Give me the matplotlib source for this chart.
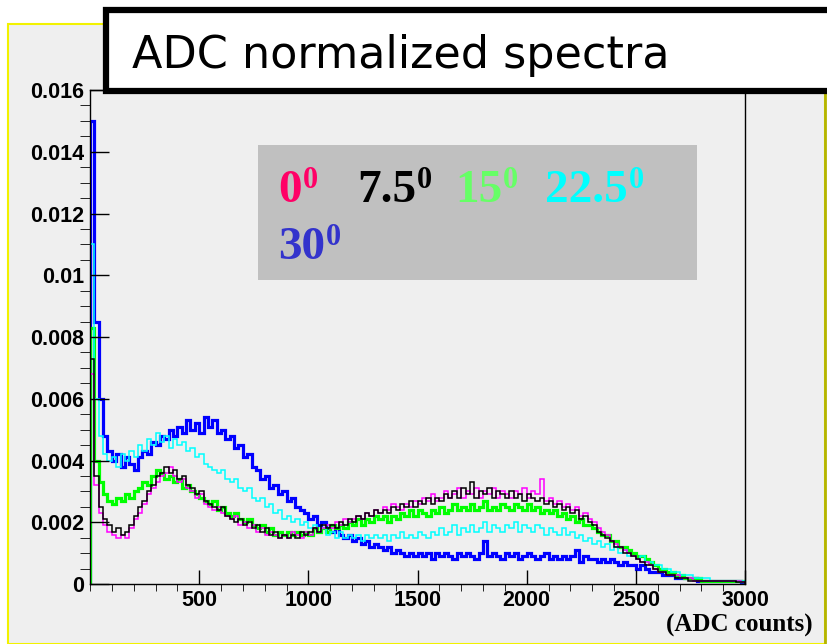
import numpy as np
import matplotlib
matplotlib.use("Agg")
import matplotlib.pyplot as plt
from matplotlib.patches import Rectangle
from matplotlib.lines import Line2D
from matplotlib.ticker import MultipleLocator, FixedLocator, FixedFormatter

# bin edges of the ADC histograms (20 counts per bin)
edges = np.arange(0, 3001, 20)

# normalized spectra, units of 1e-4
h_30 = [150, 85, 60, 48, 43, 40, 42, 38, 41, 39,
        37, 41, 43, 42, 46, 45, 48, 47, 50, 48,
        51, 49, 53, 50, 52, 49, 54, 51, 53, 49,
        50, 47, 48, 44, 45, 41, 42, 38, 37, 34,
        35, 31, 32, 29, 30, 27, 28, 25, 24, 23,
        21, 22, 19, 20, 18, 17, 18, 16, 15, 16,
        14, 15, 13, 14, 12, 13, 12, 11, 12, 10,
        11, 10, 9, 10, 9, 10, 9, 10, 8, 10,
        9, 10, 9, 8, 10, 9, 10, 9, 8, 10,
        14, 9, 10, 9, 8, 10, 9, 10, 8, 9,
        10, 9, 8, 9, 10, 8, 9, 8, 9, 8,
        9, 11, 7, 9, 8, 8, 7, 8, 7, 8,
        7, 6, 7, 6, 6, 5, 6, 5, 4, 4,
        4, 3, 3, 3, 2, 2, 2, 2, 2, 1,
        1, 1, 1, 1, 1, 1, 1, 1, 1, 0.5]

h_22 = [110, 60, 48, 42, 40, 41, 38, 42, 40, 43,
        41, 45, 43, 47, 45, 49, 46, 48, 44, 47,
        45, 46, 43, 44, 41, 42, 39, 38, 37, 36,
        37, 34, 33, 34, 31, 30, 31, 28, 27, 28,
        25, 26, 23, 24, 21, 22, 20, 21, 19, 20,
        18, 19, 17, 18, 16, 17, 15, 17, 15, 16,
        15, 16, 14, 16, 15, 16, 15, 16, 14, 16,
        15, 17, 15, 16, 15, 17, 16, 15, 17, 16,
        18, 16, 17, 19, 16, 18, 17, 19, 17, 18,
        20, 17, 19, 18, 17, 19, 18, 20, 17, 19,
        18, 17, 19, 18, 16, 18, 17, 16, 18, 16,
        17, 15, 16, 14, 15, 13, 14, 12, 13, 11,
        12, 10, 11, 9, 9, 8, 9, 7, 7, 6,
        6, 5, 5, 4, 4, 3, 3, 3, 2, 2,
        2, 2, 1, 1, 1, 1, 1, 1, 1, 1]

h_15 = [83, 40, 33, 29, 27, 26, 28, 27, 29, 28,
        30, 31, 33, 32, 35, 37, 36, 34, 35, 33,
        34, 31, 32, 30, 29, 28, 27, 26, 27, 24,
        25, 23, 22, 23, 21, 20, 21, 19, 18, 19,
        17, 18, 16, 17, 16, 17, 16, 17, 16, 17,
        16, 18, 17, 18, 17, 19, 18, 19, 18, 20,
        19, 21, 19, 21, 20, 22, 21, 22, 20, 22,
        21, 23, 22, 24, 22, 24, 23, 22, 24, 23,
        25, 23, 24, 26, 24, 25, 24, 26, 24, 25,
        27, 24, 25, 24, 26, 25, 24, 26, 25, 24,
        26, 24, 25, 23, 24, 23, 24, 22, 23, 21,
        22, 20, 21, 19, 19, 18, 17, 16, 16, 14,
        14, 12, 12, 11, 10, 9, 9, 8, 7, 6,
        5, 5, 4, 4, 3, 3, 2, 2, 2, 2,
        1, 1, 1, 1, 1, 1, 1, 1, 1, 1]

h_7 = [73, 35, 25, 21, 19, 17, 18, 16, 17, 19,
       22, 25, 27, 30, 32, 35, 36, 38, 36, 37,
       34, 35, 32, 31, 29, 30, 27, 26, 25, 24,
       25, 22, 21, 20, 21, 19, 20, 18, 19, 17,
       18, 16, 17, 15, 16, 15, 16, 15, 17, 16,
       17, 18, 17, 19, 18, 19, 18, 20, 19, 21,
       20, 22, 21, 23, 22, 24, 23, 24, 23, 25,
       24, 26, 25, 27, 25, 27, 26, 28, 26, 28,
       27, 29, 28, 30, 28, 31, 29, 33, 28, 30,
       29, 31, 28, 30, 29, 28, 30, 28, 29, 27,
       29, 28, 27, 28, 26, 27, 25, 26, 24, 25,
       23, 24, 21, 22, 20, 19, 17, 16, 15, 14,
       12, 12, 10, 10, 9, 8, 7, 6, 6, 5,
       4, 4, 3, 3, 2, 2, 2, 1, 1, 1,
       1, 1, 1, 1, 1, 1, 1, 1, 0.5, 0.5]

h_0 = [68, 32, 23, 19, 17, 16, 15, 16, 15, 18,
       21, 23, 26, 29, 31, 33, 35, 36, 38, 35,
       33, 34, 31, 30, 28, 29, 26, 25, 24, 25,
       23, 22, 21, 22, 19, 20, 18, 19, 17, 18,
       16, 17, 16, 15, 16, 15, 17, 16, 15, 17,
       16, 18, 17, 18, 19, 18, 20, 19, 21, 20,
       21, 22, 21, 23, 22, 24, 23, 25, 24, 26,
       25, 24, 26, 25, 27, 26, 28, 27, 29, 27,
       28, 30, 28, 29, 31, 28, 30, 29, 31, 28,
       30, 29, 31, 28, 30, 29, 28, 30, 29, 31,
       28, 30, 29, 34, 27, 28, 26, 27, 25, 26,
       24, 25, 22, 23, 21, 20, 18, 17, 16, 14,
       13, 12, 11, 10, 9, 8, 7, 7, 6, 5,
       4, 4, 3, 3, 3, 2, 2, 2, 1, 1,
       1, 1, 1, 1, 1, 1, 1, 1, 1, 0.5]

y_ticks = [0, 0.002, 0.004, 0.006, 0.008, 0.01, 0.012, 0.014, 0.016]
y_labels = ["0", "0.002", "0.004", "0.006", "0.008", "0.01", "0.012", "0.014", "0.016"]
x_ticks = [500, 1000, 1500, 2000, 2500, 3000]
x_labels = ["500", "1000", "1500", "2000", "2500", "3000"]

W, H = 827, 644


def fx(px):
    return px / W


def fy(py):
    return 1 - py / H


fig = plt.figure(figsize=(8.27, 6.44), dpi=100)
fig.patch.set_facecolor("white")

# grey canvas with yellow border
fig.add_artist(Rectangle((fx(8), 0), fx(817), fy(24), transform=fig.transFigure,
                         facecolor="#efefef", edgecolor="#f2f200", lw=1.5, zorder=-2))
fig.add_artist(Line2D([fx(825), fx(825)], [0, fy(24)], transform=fig.transFigure,
                      color="#b4b400", lw=2, zorder=-1))

ax = fig.add_axes([fx(90), fy(584), fx(655), (584 - 90) / H])
ax.set_facecolor("#efefef")

# histograms, thick ones first
for vals, col, lw in [(h_30, "#0000ff", 2.3), (h_15, "#00ff00", 2.3),
                      (h_22, "#00ffff", 1.1), (h_0, "#ff00ff", 1.1),
                      (h_7, "#000000", 1.1)]:
    ax.stairs(np.array(vals) * 1e-4, edges, color=col, lw=lw)

ax.set_xlim(0, 3000)
ax.set_ylim(0, 0.016)
ax.yaxis.set_major_locator(FixedLocator(y_ticks))
ax.yaxis.set_major_formatter(FixedFormatter(y_labels))
ax.yaxis.set_minor_locator(MultipleLocator(0.0005))
ax.xaxis.set_major_locator(FixedLocator(x_ticks))
ax.xaxis.set_major_formatter(FixedFormatter(x_labels))
ax.xaxis.set_minor_locator(MultipleLocator(100))

ax.tick_params(direction="in", width=1, color="black")
ax.tick_params(axis="y", which="major", length=14, pad=4)
ax.tick_params(axis="y", which="minor", length=7)
ax.tick_params(axis="x", which="major", length=10, pad=4)
ax.tick_params(axis="x", which="minor", length=5)
for lab in ax.get_xticklabels() + ax.get_yticklabels():
    lab.set_fontfamily("Liberation Sans")
    lab.set_fontweight("bold")
    lab.set_fontsize(15.5)
for sp in ax.spines.values():
    sp.set_linewidth(1.0)

fig.text(fx(813), fy(625), "(ADC counts)", ha="right", va="center",
         family="Liberation Serif", weight="bold", fontsize=18)

# title box
fig.add_artist(Rectangle((fx(106), fy(91)), fx(740), (91 - 10) / H, transform=fig.transFigure,
                         facecolor="white", edgecolor="black", lw=4.5, zorder=5))
fig.text(fx(132), fy(68), "ADC normalized spectra", ha="left", va="baseline",
         family="DejaVu Sans", fontsize=32, zorder=6)

# angle legend box
fig.add_artist(Rectangle((fx(258), fy(280)), fx(439), (280 - 145) / H, transform=fig.transFigure,
                         facecolor="#c0c0c0", edgecolor="none", zorder=5))
legend_items = [("0", "#ff0066", 278, 202),
                ("7.5", "#000000", 357, 202),
                ("15", "#66ff66", 455, 202),
                ("22.5", "#00ffff", 545, 202),
                ("30", "#3333cc", 278, 259)]
renderer = fig.canvas.get_renderer()
for txt, col, x0, yb in legend_items:
    t = fig.text(fx(x0), fy(yb), txt, color=col, ha="left", va="baseline",
                 family="Liberation Serif", weight="bold", fontsize=34, zorder=6)
    x_end = t.get_window_extent(renderer).x1
    fig.text((x_end + 1) / W, fy(yb - 14), "0", color=col, ha="left", va="baseline",
             family="Liberation Serif", weight="bold", fontsize=22, zorder=6)

fig.savefig("out.png", dpi=100)
